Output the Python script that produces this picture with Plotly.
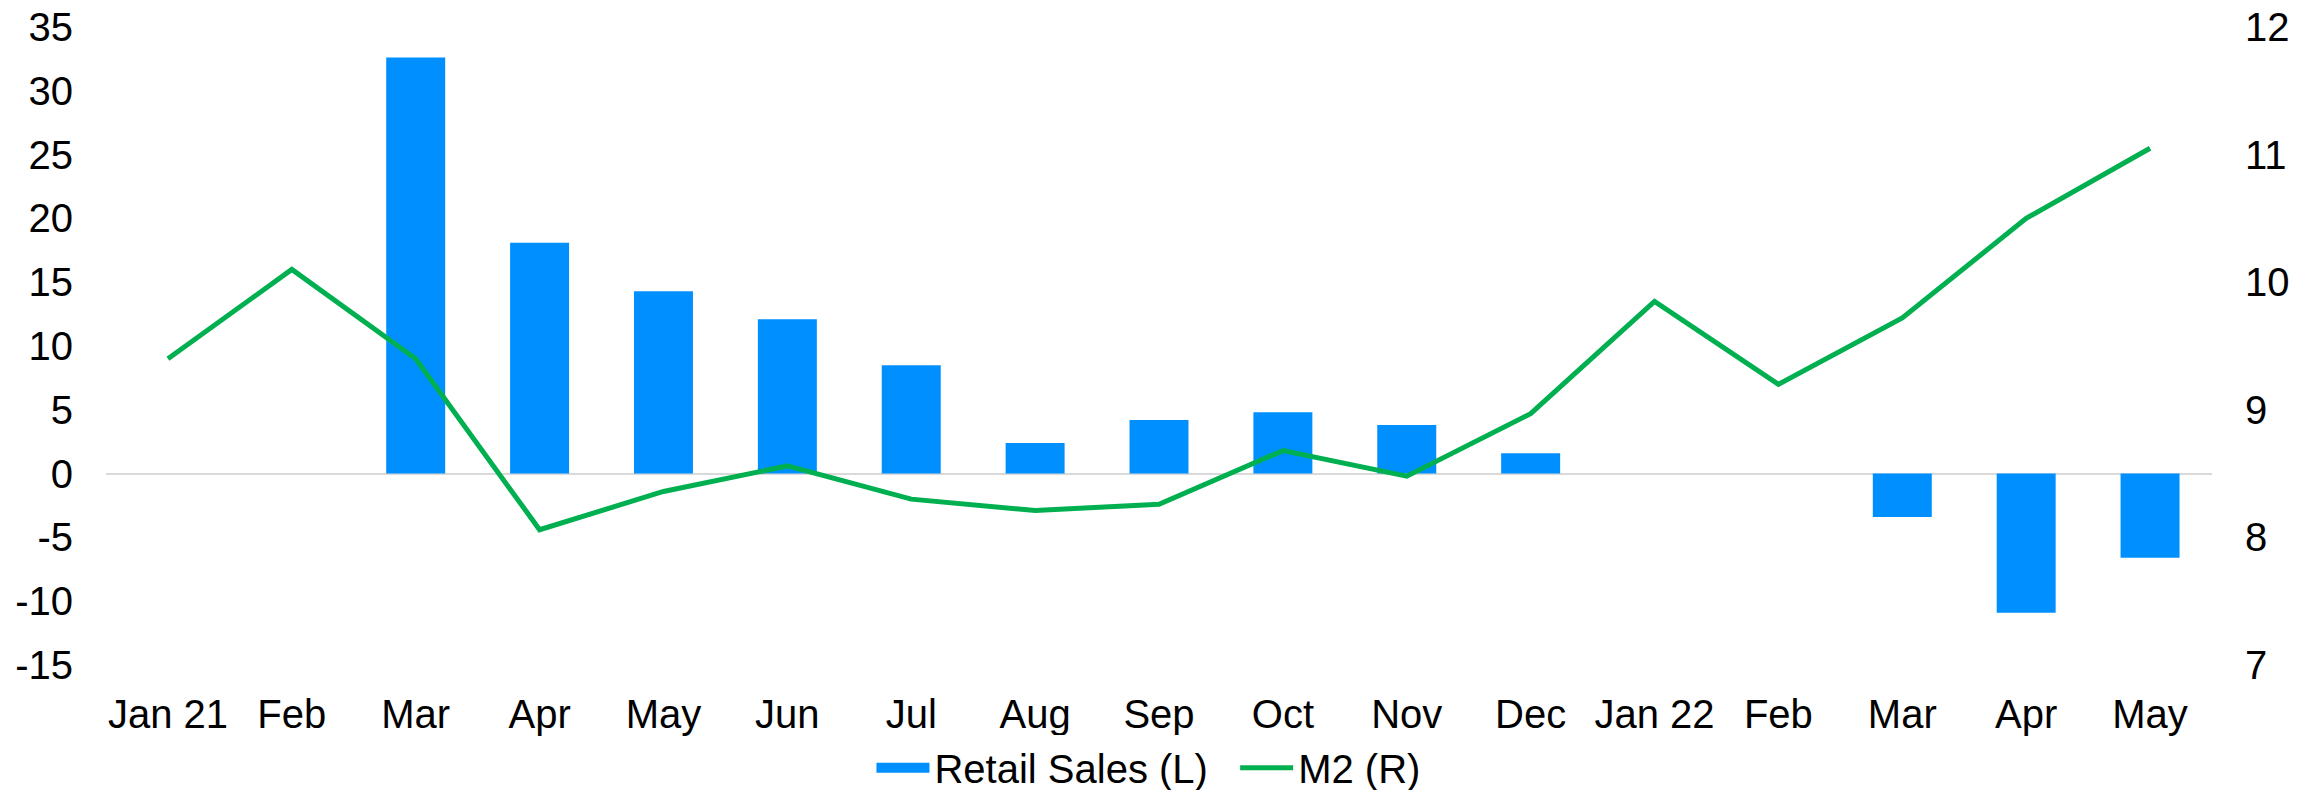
import plotly.graph_objects as go

months = ["Jan 21", "Feb", "Mar", "Apr", "May", "Jun", "Jul", "Aug", "Sep",
          "Oct", "Nov", "Dec", "Jan 22", "Feb", "Mar", "Apr", "May"]
retail_sales = [None, None, 32.6, 18.1, 14.3, 12.1, 8.5, 2.4, 4.2,
                4.8, 3.8, 1.6, None, None, -3.4, -10.9, -6.6]
m2 = [9.40, 10.10, 9.40, 8.06, 8.36, 8.56, 8.30, 8.21, 8.26,
      8.68, 8.48, 8.97, 9.85, 9.20, 9.72, 10.50, 11.05]
left_ticks = [-15, -10, -5, 0, 5, 10, 15, 20, 25, 30, 35]
left_labels = ["-15", "-10", "-5", "0", "5", "10", "15", "20", "25", "30", "35"]
right_ticks = [7, 8, 9, 10, 11, 12]
right_labels = ["7", "8", "9", "10", "11", "12"]

xpos = list(range(len(months)))
FONT = "Liberation Sans, Arial, sans-serif"
BLUE = "#008FFF"
GREEN = "#00B050"

fig = go.Figure()
fig.add_trace(go.Bar(x=xpos, y=retail_sales, name="Retail Sales (L)", showlegend=False,
                     marker=dict(color=BLUE, line=dict(width=0))))
# legend proxy giving the wide rectangular swatch of the original legend
# (two non-breaking spaces widen the gap to the next legend item)
fig.add_trace(go.Scatter(x=[None], y=[None], name="Retail Sales (L)\u00a0\u00a0", mode="lines",
                         line=dict(color=BLUE, width=21), hoverinfo="skip"))
fig.add_trace(go.Scatter(x=xpos, y=m2, name="M2 (R)", mode="lines", yaxis="y2",
                         line=dict(color=GREEN, width=5)))

# the page body adds an 8px margin, so the figure is sized 8px smaller
fig.update_layout(
    width=2310, height=782,
    margin=dict(l=98, r=106, t=19, b=125, autoexpand=False),
    paper_bgcolor="white", plot_bgcolor="white",
    font=dict(family=FONT, size=40, color="#000000"),
    bargap=0.524,
    showlegend=True,
    legend=dict(orientation="h", x=0.495, xanchor="center", y=-0.161, yanchor="middle",
                font=dict(size=40), itemwidth=53, traceorder="normal"),
    xaxis=dict(tickmode="array", tickvals=xpos, ticktext=months,
               range=[-0.5, len(months) - 0.5], showgrid=False, showline=False,
               zeroline=False, ticks="", ticklabelstandoff=22, automargin=False),
    yaxis=dict(range=[-15, 35], tickmode="array", tickvals=left_ticks, ticktext=left_labels,
               showgrid=False, zeroline=True, zerolinecolor="#d9d9d9", zerolinewidth=2,
               showline=False, ticks="", ticklabelstandoff=32, automargin=False,
               ticklabeloverflow="allow"),
    yaxis2=dict(range=[7, 12], tickmode="array", tickvals=right_ticks, ticktext=right_labels,
                overlaying="y", side="right", showgrid=False, zeroline=False,
                showline=False, ticks="", ticklabelstandoff=32, automargin=False,
                ticklabeloverflow="allow"),
)

fig.write_html("out.html")
